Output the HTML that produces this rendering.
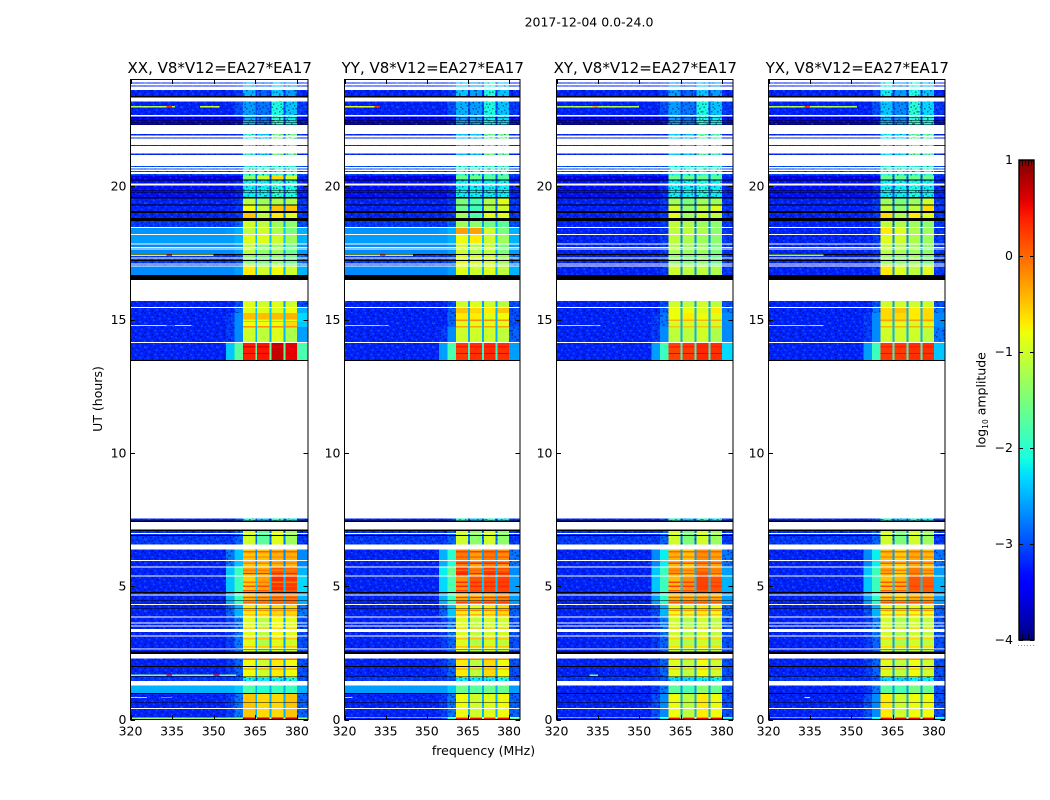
<!DOCTYPE html>
<html>
<head>
<meta charset="utf-8">
<title>2017-12-04 0.0-24.0</title>
<style>
html,body{margin:0;padding:0;background:#fff;width:1050px;height:800px;overflow:hidden}
svg{display:block}
text{font-family:"DejaVu Sans","Liberation Sans",sans-serif;fill:#000}
.tick{font-size:12.5px}
.title{font-size:15px}
</style>
</head>
<body>
<svg id="fig" xmlns="http://www.w3.org/2000/svg" width="1050" height="800" viewBox="0 0 1050 800">
  <defs>
    <pattern id="speckle" width="36" height="24" patternUnits="userSpaceOnUse"></pattern>
    <linearGradient id="jetGradient" x1="0" y1="1" x2="0" y2="0"></linearGradient>
  </defs>
  <text x="589" y="26.5" text-anchor="middle" style="font-size:12.5px">2017-12-04 0.0-24.0</text>
  <text transform="translate(102,399) rotate(-90)" text-anchor="middle" style="font-size:12.5px">UT (hours)</text>
  <text x="483.5" y="755" text-anchor="middle" style="font-size:12.5px">frequency (MHz)</text>
  <g id="panels"></g>
  <g id="cbar"></g>
  <text transform="translate(985.5,400) rotate(-90)" text-anchor="middle" style="font-size:12.5px">log<tspan dy="2.5" style="font-size:7.5px">10</tspan><tspan dy="-2.5"> amplitude</tspan></text>
</svg>
<script>
// ---- categories and ticks ----
const polarizations = ["XX", "YY", "XY", "YX"];
const baselineLabel = ", V8*V12=EA27*EA17";
const freqTicks = [320, 335, 350, 365, 380];
const hourTicks = [0, 5, 10, 15, 20];
const cbarTicks = [1, 0, -1, -2, -3, -4];
const freqRange = [320, 384];
const hourRange = [0, 24];
const ampRange = [-4, 1];

// frequency channel groups (MHz): background, two shoulder groups, band 1, notch, band 2, notch, band 3, notch, band 4, outer
const freqEdges = [320, 354.5, 357.5, 360.6, 365, 365.7, 370.1, 370.8, 375.1, 375.8, 380, 384];

// time blocks (top hour, bottom hour)
const timeBlocks = [
 [24,23.17],[23.17,22.66],[22.66,22.29],[22.29,21.0],[21.0,20.40],[20.40,20.25],
 [20.25,19.6],[19.6,19.27],[19.27,19.0],[19.0,18.69],[18.69,18.47],[18.47,18.17],
 [18.17,17.85],[17.85,17.45],[17.45,17.0],[17.0,16.48],
 [15.70,15.44],[15.44,15.25],[15.25,14.9],[14.9,14.72],[14.72,14.14],[14.14,13.45],
 [7.54,7.40],[7.07,6.56],[6.38,5.72],[5.72,5.38],[5.38,4.76],[4.76,4.32],
 [4.32,3.85],[3.85,3.13],[3.13,2.46],[2.29,1.6],[1.6,1.27],[1.27,0.97],[0.97,0.07],[0.07,0]
];
// indices of time blocks whose bands are faint and noisy
const noisyBlocks = [0, 1, 2, 3, 4, 6, 22, 32];

// log10 amplitude per block: [bg, shoulder1, shoulder2, band1, band2, band3, band4, outer, notch]
const ampXX = [
 [-3.2,-3.2,-3.1,-2.5,-2.9,-2.4,-2.6,-3.2,-3.2],
 [-3.2,-3.2,-3.0,-2.6,-2.8,-2.1,-2.4,-3.1,-3.0],
 [-3.4,-3.4,-3.3,-2.5,-2.8,-2.0,-2.2,-3.3,-3.2],
 [-3.2,-3.2,-3.2,-2.0,-2.4,-1.5,-1.6,-3.2,-3.2],
 [-3.0,-3.0,-3.0,-2.0,-2.0,-2.0,-2.0,-3.0,-2.8],
 [-3.5,-3.5,-3.4,-1.4,-1.0,-0.6,-1.0,-3.2,-2.9],
 [-3.3,-3.3,-3.2,-2.2,-2.2,-2.0,-2.1,-3.2,-3.0],
 [-3.2,-3.2,-3.1,-1.1,-1.3,-1.2,-1.2,-3.1,-2.8],
 [-3.2,-3.2,-3.1,-0.8,-1.1,-0.5,-0.5,-3.1,-2.8],
 [-3.2,-3.2,-3.1,-0.5,-1.1,-0.7,-0.9,-3.1,-2.8],
 [-3.1,-3.1,-2.9,-1.0,-1.1,-1.3,-1.4,-3.0,-2.6],
 [-2.65,-2.6,-2.5,-1.1,-1.0,-1.2,-1.5,-2.5,-2.4],
 [-2.6,-2.6,-2.5,-0.9,-0.9,-1.0,-1.3,-2.5,-2.4],
 [-2.7,-2.7,-2.6,-1.1,-1.4,-1.3,-1.6,-2.6,-2.5],
 [-3.1,-3.1,-3.0,-1.4,-1.5,-1.4,-1.6,-2.8,-2.7],
 [-2.7,-2.7,-2.6,-0.7,-1.0,-0.8,-1.0,-2.5,-2.5],
 [-3.2,-3.2,-3.0,-0.9,-1.0,-0.9,-1.0,-3.0,-2.6],
 [-3.2,-3.2,-2.8,-0.9,-0.9,-0.9,-0.8,-2.5,-2.4],
 [-3.2,-3.1,-2.7,-0.45,-0.45,-0.45,-0.4,-2.3,-2.4],
 [-3.2,-3.1,-2.7,-0.8,-0.8,-0.8,-0.6,-2.4,-2.4],
 [-3.2,-3.1,-2.7,-1.0,-1.1,-0.9,-1.2,-2.6,-2.5],
 [-3.2,-2.4,-1.7,0.4,0.45,0.7,0.55,-1.8,-1.7],
 [-3.2,-3.2,-3.0,-2.0,-2.4,-2.0,-2.2,-3.1,-3.0],
 [-3.1,-3.1,-2.9,-1.0,-1.7,-0.9,-1.3,-3.1,-2.8],
 [-3.2,-2.8,-2.4,-0.5,-0.5,-0.4,-0.4,-2.7,-2.7],
 [-3.2,-2.4,-1.9,-0.3,-0.3,0.1,0.0,-2.5,-2.5],
 [-3.2,-2.4,-1.9,-0.55,-0.3,0.3,0.25,-2.3,-2.4],
 [-3.2,-2.5,-1.9,-0.35,-0.2,-0.05,-0.05,-2.5,-2.5],
 [-3.2,-2.9,-2.5,-0.7,-0.7,-0.6,-0.6,-2.8,-2.6],
 [-3.2,-3.1,-2.8,-0.9,-1.1,-0.8,-0.9,-3.0,-2.6],
 [-3.2,-3.1,-2.8,-0.9,-1.2,-0.9,-1.0,-3.0,-2.6],
 [-3.2,-3.1,-2.9,-0.8,-1.0,-0.7,-0.8,-3.0,-2.6],
 [-3.1,-3.1,-3.0,-2.2,-2.2,-2.2,-2.1,-3.0,-2.9],
 [-2.5,-2.5,-2.4,-1.8,-2.0,-1.9,-1.9,-2.5,-2.5],
 [-3.2,-3.1,-2.8,-0.5,-0.6,-0.6,-0.5,-2.9,-2.5],
 [-1.3,-1.3,-1.3,0.7,0.7,0.7,0.7,-1.3,-1.0]
];
const ampYY = [
 [-3.2,-3.2,-3.1,-2.4,-2.6,-2.1,-2.4,-3.2,-3.2],
 [-3.2,-3.2,-3.0,-2.5,-2.6,-2.1,-2.4,-3.1,-3.0],
 [-3.4,-3.4,-3.3,-2.6,-2.6,-2.2,-2.3,-3.3,-3.2],
 [-3.2,-3.2,-3.2,-2.4,-2.4,-1.6,-1.6,-3.2,-3.2],
 [-3.0,-3.0,-3.0,-2.0,-2.0,-1.9,-1.9,-3.0,-2.8],
 [-3.5,-3.5,-3.4,-1.6,-1.6,-1.7,-1.7,-3.2,-2.9],
 [-3.3,-3.3,-3.2,-2.2,-2.2,-2.2,-2.2,-3.2,-3.0],
 [-3.2,-3.2,-3.1,-1.5,-1.8,-1.2,-0.9,-3.1,-2.8],
 [-3.2,-3.2,-3.1,-1.6,-1.9,-1.2,-1.0,-3.1,-2.8],
 [-3.2,-3.2,-3.1,-1.3,-1.8,-0.9,-0.9,-3.1,-2.8],
 [-3.1,-3.1,-2.9,-1.3,-1.4,-1.6,-1.7,-3.0,-2.6],
 [-2.65,-2.6,-2.5,-0.3,-0.3,-1.0,-1.5,-2.5,-2.4],
 [-2.6,-2.6,-2.5,-0.8,-0.7,-1.0,-1.3,-2.5,-2.4],
 [-2.7,-2.7,-2.6,-1.0,-1.2,-1.1,-1.5,-2.6,-2.5],
 [-3.1,-3.1,-3.0,-0.9,-1.0,-1.0,-1.3,-2.8,-2.7],
 [-2.7,-2.7,-2.6,-0.9,-1.0,-0.9,-1.1,-2.5,-2.5],
 [-3.2,-3.2,-3.0,-1.0,-0.9,-1.0,-1.1,-3.0,-2.6],
 [-3.2,-3.2,-2.9,-0.5,-0.6,-0.7,-0.5,-3.0,-2.5],
 [-3.2,-3.2,-2.9,-0.7,-0.7,-0.9,-0.8,-3.0,-2.5],
 [-3.2,-3.2,-2.9,-0.9,-0.9,-0.9,-0.9,-3.0,-2.5],
 [-3.2,-3.1,-2.7,-1.0,-1.0,-1.0,-1.1,-2.9,-2.5],
 [-3.2,-2.6,-1.8,0.25,0.3,0.35,0.3,-2.6,-2.0],
 [-3.2,-3.2,-3.0,-2.0,-2.4,-2.0,-2.2,-3.1,-3.0],
 [-3.1,-3.1,-2.9,-1.0,-1.4,-1.0,-1.4,-3.1,-2.8],
 [-3.2,-2.5,-2.0,-0.1,-0.3,-0.1,-0.2,-2.8,-2.6],
 [-3.2,-2.2,-1.6,0.3,-0.1,0.25,0.15,-2.7,-2.5],
 [-3.2,-2.3,-1.8,-0.2,0.1,0.15,0.2,-2.6,-2.4],
 [-3.2,-2.5,-1.9,-0.3,-0.3,-0.2,-0.1,-2.6,-2.5],
 [-3.2,-2.9,-2.4,-0.7,-0.9,-0.7,-0.6,-2.9,-2.6],
 [-3.2,-3.1,-2.8,-0.9,-1.1,-1.0,-1.0,-3.0,-2.6],
 [-3.2,-3.1,-2.9,-0.9,-1.2,-1.0,-1.1,-3.0,-2.6],
 [-3.2,-3.1,-2.9,-0.7,-1.1,-0.6,-0.8,-3.0,-2.6],
 [-3.1,-3.1,-3.0,-2.2,-2.2,-2.2,-2.1,-3.0,-2.9],
 [-2.6,-2.6,-2.4,-1.6,-1.7,-1.6,-1.6,-2.6,-2.5],
 [-3.2,-3.1,-2.8,-0.8,-1.0,-0.9,-0.8,-2.9,-2.5],
 [-3.2,-3.0,-2.0,0.4,0.5,0.4,0.5,-1.6,-1.2]
];
const ampXY = [
 [-3.2,-3.2,-3.1,-2.6,-2.9,-2.4,-2.6,-3.2,-3.2],
 [-3.2,-3.2,-3.0,-2.6,-2.8,-2.1,-2.4,-3.1,-3.0],
 [-3.4,-3.4,-3.3,-2.6,-2.8,-2.1,-2.2,-3.3,-3.2],
 [-3.2,-3.2,-3.2,-2.3,-2.4,-1.7,-1.8,-3.2,-3.2],
 [-3.0,-3.0,-3.0,-2.1,-2.1,-2.0,-2.0,-3.0,-2.8],
 [-3.5,-3.5,-3.4,-1.6,-1.6,-1.6,-1.7,-3.2,-2.9],
 [-3.3,-3.3,-3.2,-2.2,-2.2,-2.1,-2.2,-3.2,-3.0],
 [-3.2,-3.2,-3.1,-1.3,-1.5,-1.3,-1.3,-3.1,-2.8],
 [-3.2,-3.2,-3.1,-1.0,-1.4,-1.1,-0.9,-3.1,-2.8],
 [-3.2,-3.2,-3.1,-0.9,-1.3,-1.0,-1.1,-3.1,-2.8],
 [-3.2,-3.2,-3.1,-1.1,-1.2,-1.3,-1.4,-3.1,-2.8],
 [-3.2,-3.2,-3.1,-1.1,-1.1,-1.2,-1.4,-3.1,-2.7],
 [-3.2,-3.2,-3.1,-1.1,-1.2,-1.3,-1.4,-3.1,-2.7],
 [-3.2,-3.2,-3.1,-1.2,-1.3,-1.3,-1.5,-3.1,-2.7],
 [-3.2,-3.2,-3.1,-1.4,-1.5,-1.4,-1.6,-3.1,-2.7],
 [-3.2,-3.2,-3.1,-1.0,-1.1,-1.1,-1.2,-3.1,-2.7],
 [-3.2,-3.2,-3.0,-1.0,-1.1,-1.0,-1.1,-3.0,-2.6],
 [-3.2,-3.2,-2.9,-0.8,-0.8,-0.9,-0.7,-2.8,-2.5],
 [-3.2,-3.1,-2.8,-0.8,-0.7,-0.8,-0.9,-2.7,-2.5],
 [-3.2,-3.1,-2.8,-1.0,-1.0,-1.0,-1.0,-2.7,-2.5],
 [-3.2,-3.1,-2.7,-1.1,-1.1,-1.0,-1.2,-2.7,-2.5],
 [-3.2,-2.6,-1.9,0.2,0.25,0.35,0.3,-2.3,-2.0],
 [-3.2,-3.2,-3.0,-2.0,-2.4,-2.0,-2.2,-3.1,-3.0],
 [-3.1,-3.1,-2.9,-1.0,-1.5,-1.0,-1.3,-3.1,-2.8],
 [-3.2,-2.7,-2.2,-0.4,-0.5,-0.2,-0.3,-2.8,-2.6],
 [-3.2,-2.4,-1.9,-0.2,-0.3,0.05,-0.15,-2.6,-2.5],
 [-3.2,-2.4,-1.9,-0.45,-0.2,0.2,0.1,-2.5,-2.4],
 [-3.2,-2.6,-2.0,-0.35,-0.3,-0.25,-0.3,-2.6,-2.5],
 [-3.2,-3.0,-2.5,-0.8,-0.9,-0.7,-0.8,-2.9,-2.6],
 [-3.2,-3.1,-2.8,-1.0,-1.2,-1.0,-1.1,-3.0,-2.6],
 [-3.2,-3.1,-2.9,-1.0,-1.2,-1.0,-1.1,-3.0,-2.6],
 [-3.2,-3.1,-2.9,-0.9,-1.1,-0.8,-1.0,-3.0,-2.6],
 [-3.1,-3.1,-3.0,-2.3,-2.3,-2.2,-2.2,-3.0,-2.9],
 [-3.2,-3.1,-2.8,-1.7,-1.8,-1.4,-1.6,-3.0,-2.6],
 [-3.2,-3.0,-2.7,-0.8,-1.1,-0.7,-0.8,-3.0,-2.5],
 [-3.2,-3.0,-2.2,0.5,0.55,0.5,0.55,-2.2,-1.6]
];
const ampYX = [
 [-3.2,-3.2,-3.1,-2.2,-2.6,-2.1,-2.4,-3.2,-3.2],
 [-3.2,-3.2,-3.0,-2.4,-2.7,-2.0,-2.3,-3.1,-3.0],
 [-3.4,-3.4,-3.3,-2.5,-2.7,-2.0,-2.1,-3.3,-3.2],
 [-3.2,-3.2,-3.2,-2.2,-2.3,-1.6,-1.7,-3.2,-3.2],
 [-3.0,-3.0,-3.0,-2.0,-2.0,-2.0,-2.0,-3.0,-2.8],
 [-3.5,-3.5,-3.4,-1.6,-1.6,-1.6,-1.6,-3.2,-2.9],
 [-3.3,-3.3,-3.2,-2.2,-2.2,-2.1,-2.2,-3.2,-3.0],
 [-3.2,-3.2,-3.1,-1.3,-1.5,-1.3,-1.0,-3.1,-2.8],
 [-3.2,-3.2,-3.1,-1.1,-1.4,-1.1,-0.6,-3.1,-2.8],
 [-3.2,-3.2,-3.1,-0.6,-1.2,-0.7,-0.9,-3.1,-2.8],
 [-3.2,-3.2,-3.1,-1.1,-1.2,-1.3,-1.4,-3.1,-2.8],
 [-3.2,-3.2,-3.1,-0.7,-0.9,-1.2,-1.3,-3.1,-2.7],
 [-3.2,-3.2,-3.1,-0.9,-1.0,-1.2,-1.3,-3.1,-2.7],
 [-3.2,-3.2,-3.1,-1.1,-1.2,-1.3,-1.4,-3.1,-2.7],
 [-3.2,-3.2,-3.1,-1.3,-1.4,-1.3,-1.5,-3.1,-2.7],
 [-3.2,-3.2,-3.1,-0.7,-0.9,-1.1,-0.9,-3.1,-2.7],
 [-3.2,-3.2,-3.0,-1.0,-1.0,-1.0,-1.0,-3.0,-2.6],
 [-3.2,-3.2,-2.8,-0.6,-0.5,-0.7,-0.6,-2.8,-2.5],
 [-3.2,-3.1,-2.7,-0.6,-0.6,-0.7,-0.6,-2.7,-2.5],
 [-3.2,-3.1,-2.7,-0.9,-0.9,-1.0,-0.9,-2.7,-2.5],
 [-3.2,-3.1,-2.7,-1.0,-1.0,-1.0,-1.1,-2.8,-2.5],
 [-3.2,-2.6,-1.9,0.25,0.25,0.3,0.3,-2.4,-2.0],
 [-3.2,-3.2,-3.0,-2.0,-2.4,-2.0,-2.2,-3.1,-3.0],
 [-3.1,-3.1,-2.9,-1.0,-1.5,-1.0,-1.3,-3.1,-2.8],
 [-3.2,-2.7,-2.2,-0.45,-0.55,-0.35,-0.45,-2.8,-2.6],
 [-3.2,-2.4,-1.9,-0.3,-0.5,-0.1,-0.3,-2.6,-2.5],
 [-3.2,-2.4,-1.9,-0.5,-0.4,0.1,0.05,-2.5,-2.4],
 [-3.2,-2.6,-2.0,-0.4,-0.5,-0.35,-0.35,-2.6,-2.5],
 [-3.2,-3.0,-2.5,-0.8,-0.9,-0.8,-0.8,-2.9,-2.6],
 [-3.2,-3.1,-2.8,-1.0,-1.2,-1.0,-1.1,-3.0,-2.6],
 [-3.2,-3.1,-2.9,-1.0,-1.2,-1.0,-1.1,-3.0,-2.6],
 [-3.2,-3.1,-2.9,-0.9,-1.1,-0.8,-1.0,-3.0,-2.6],
 [-3.1,-3.1,-3.0,-2.3,-2.3,-2.2,-2.2,-3.0,-2.9],
 [-3.2,-3.1,-2.8,-1.7,-1.8,-1.5,-1.6,-3.0,-2.6],
 [-3.2,-3.0,-2.7,-0.7,-1.0,-0.8,-0.8,-3.0,-2.5],
 [-3.2,-3.0,-2.2,0.5,0.55,0.5,0.55,-2.2,-1.6]
];
const panelAmps = [ampXX, ampYY, ampXY, ampYX];

// thin time rows inside the bright bands
const stripeHours = [6.32,6.12,5.88,5.62,5.5,5.18,5.02,4.85,4.6,4.42,4.12,3.95,3.42,3.05,2.75,2.28,1.92,14.0,13.75,15.0,14.75];
const stripeXX = [0.05,-0.1,-0.1,-0.1,0.35,-0.1,0.15,0.1,0.2,0.0,-0.2,-0.5,-0.4,-0.5,-0.5,0.0,-0.2,0.6,0.7,-0.9,-0.2];
const stripeYY = [0.25,0.2,0.4,0.0,0.4,0.3,0.35,0.2,0.3,0.2,-0.1,-0.4,-0.4,-0.5,-0.5,-0.1,-0.3,0.45,0.55,-0.2,-0.3];
const stripeXY = [0.05,0.05,0.2,-0.1,0.15,0.2,0.25,0.1,0.15,0.1,-0.2,-0.5,-0.5,-0.6,-0.6,-0.2,-0.4,0.4,0.55,-0.4,-0.5];
const stripeYX = [0.0,0.0,0.1,-0.1,0.1,0.1,0.2,0.05,0.1,0.1,-0.2,-0.5,-0.5,-0.6,-0.6,-0.2,-0.4,0.4,0.5,-0.3,-0.4];
const panelStripes = [stripeXX, stripeYY, stripeXY, stripeYX];

// flagged time ranges (hour top, hour bottom)
const whiteBands = [
 [24,23.88],[23.85,23.78],[23.74,23.61],[23.32,23.17],[22.66,22.62],[22.29,21.95],[21.90,21.83],
 [21.79,21.54],[21.50,21.23],[21.17,20.75],[20.72,20.67],[20.63,20.57],[20.53,20.45],[20.10,20.03],
 [18.47,18.43],[18.20,18.17],[17.85,17.81],[17.72,17.69],[17.66,17.63],[17.33,17.29],[17.10,17.07],[17.02,16.98],
 [15.47,15.44],[14.16,14.12],
 [7.40,7.13],[6.99,6.95],[6.56,6.38],[5.99,5.95],[5.74,5.70],[5.40,5.37],[4.69,4.65],[4.34,4.30],
 [3.87,3.83],[3.64,3.60],[3.53,3.48],[3.39,3.28],[3.15,3.12],[2.66,2.63],[2.46,2.29],
 [1.44,1.27],[0.44,0.40]
];
const blackBands = [
 [23.38,23.32],[22.59,22.57],[22.49,22.47],[22.41,22.39],[22.31,22.29],[20.25,20.22],[19.85,19.83],[19.78,19.76],
 [19.6,19.53],[19.32,19.27],[19.07,19.0],[18.8,18.69],[17.45,17.41],[17.23,17.2],[16.67,16.48],[13.48,13.45],
 [7.48,7.46],[7.44,7.40],[7.13,7.07],[6.91,6.89],[4.78,4.75],[4.49,4.47],[4.19,4.17],[2.63,2.60],[2.55,2.46],
 [2.0,1.97],[1.62,1.59],[0.99,0.95],[0.66,0.64]
];
const extraWhite = [[], [[0.10,0.07]], [[0.10,0.07]], [[0.10,0.07]]];

// narrow-band interference: [panel, hour, f0, f1, level]
const rfiLines = [
 [0,23.0,320,336,-1.2],[0,23.0,333,335,0.3],[0,23.0,345,352,-1.0],[0,14.8,320,342,-0.9],[0,14.8,333,336,0.3],
 [0,17.43,320,350,-1.0],[0,17.43,333,335,0.4],[0,0.85,320,326,-1.5],[0,0.85,331,335,0.0],[0,1.68,320,358,-1.4],
 [0,1.68,333,335,0.4],[0,1.68,350,352,0.4],
 [1,23.0,320,332,-0.9],[1,23.0,331,333,0.3],[1,14.8,320,336,-1.4],[1,14.8,333,335,-0.2],[1,0.85,320,323,-1.5],[1,17.43,320,345,-1.2],[1,17.43,333,335,0.2],
 [2,23.0,320,350,-1.2],[2,23.0,333,335,-0.3],[2,14.8,320,336,-1.2],[2,14.8,333,335,-0.3],[2,1.68,332,335,-1.7],
 [3,23.0,320,352,-1.2],[3,23.0,333,335,0.3],[3,14.8,320,340,-1.2],[3,14.8,333,335,-0.3],[3,0.85,333,335,-0.8],[3,17.43,320,340,-1.4]
];

// ---- layout ----
const panelLeft = [130.5, 344.5, 556.5, 768.5];
const panelRight = [308, 520, 733, 945];
const plotTop = 79.5;
const plotBottom = 719.5;
const cbarBox = {x:1019, y:160, w:15, h:480};

// noise texture tile (d = darker pixel, l = lighter pixel), one character per 1.5 px
const noiseTile = [
 "d..l...d.....dd...l...d.",
 ".....d....l......d...l..",
 "..d.....dd...l.d.....d..",
 "l....l......d.....dd....",
 "...d...d..l.....l.....d.",
 ".d....l.....d.d....d....",
 "....d....d.......l...l.d",
 "ll.....d...l.d.....d....",
 "...d.d....d.....d...d...",
 "d.......l.....l....l....",
 "...l..d....dd.....d...d.",
 ".d.......d.....d......l.",
 "....dd.l....l.....l.d...",
 "d.........d...d.d.......",
 "..l..d..l.....l...d..l..",
 ".....d....d.d.....d....d"
];

const NS = "http://www.w3.org/2000/svg";
function mk(tag, attrs, parent){
  const el = document.createElementNS(NS, tag);
  for (const k in attrs) el.setAttribute(k, attrs[k]);
  parent.appendChild(el);
  return el;
}
function scaleX(i, f){
  return panelLeft[i] + (f - freqRange[0]) / (freqRange[1] - freqRange[0]) * (panelRight[i] - panelLeft[i]);
}
function scaleY(h){
  return plotBottom - (h - hourRange[0]) / (hourRange[1] - hourRange[0]) * (plotBottom - plotTop);
}
function ramp(t, pts){
  for (let i = 1; i < pts.length; i++){
    if (t <= pts[i][0]){
      const a = pts[i-1], b = pts[i];
      return a[1] + (b[1]-a[1]) * (t-a[0]) / (b[0]-a[0]);
    }
  }
  return pts[pts.length-1][1];
}
function jet(v){
  const t = Math.max(0, Math.min(1, (v - ampRange[0]) / (ampRange[1] - ampRange[0])));
  const r = ramp(t, [[0,0],[0.35,0],[0.66,1],[0.89,1],[1,0.5]]);
  const g = ramp(t, [[0,0],[0.125,0],[0.375,1],[0.64,1],[0.91,0],[1,0]]);
  const b = ramp(t, [[0,0.5],[0.11,1],[0.34,1],[0.65,0],[1,0]]);
  return "rgb(" + Math.round(r*255) + "," + Math.round(g*255) + "," + Math.round(b*255) + ")";
}
// build the noise tile
const tilePattern = document.getElementById("speckle");
noiseTile.forEach(function(row, r){
  row.split("").forEach(function(ch, c){
    if (ch === ".") return;
    mk("rect", {x:c*1.5, y:r*1.5, width:1.5, height:1.5,
      fill: ch === "d" ? "#000060" : "#2a80ff",
      opacity: ch === "d" ? 0.5 : 0.45}, tilePattern);
  });
});

// map a channel group to its column in the amplitude row
const groupToColumn = [0, 1, 2, 3, 8, 4, 8, 5, 8, 6, 7];

const panelsRoot = document.getElementById("panels");
polarizations.forEach(function(pol, p){
  const g = mk("g", {}, panelsRoot);
  
  
  const L = panelLeft[p], R = panelRight[p];

  // heatmap cells
  const heat = mk("g", {"shape-rendering":"crispEdges"}, g);
  
  
  timeBlocks.forEach(function(tb, b){
    const y0 = scaleY(tb[0]), y1 = scaleY(tb[1]);
    for (let s = 0; s < freqEdges.length - 1; s++){
      const x0 = scaleX(p, freqEdges[s]), x1 = scaleX(p, freqEdges[s+1]);
      const level = panelAmps[p][b][groupToColumn[s]];
      const cell = mk("rect", {x:x0, y:y0, width:x1-x0, height:y1-y0, fill:jet(level)}, heat);
      
      
      if (level < -2.75 || noisyBlocks.indexOf(b) >= 0){
        const tex = mk("rect", {x:x0, y:y0, width:x1-x0, height:y1-y0, fill:"url(#speckle)"}, heat);
        
        
      }
    }
  });

  // bright time rows in the four bands
  stripeHours.forEach(function(h, k){
    [[360.6,365],[365.7,370.1],[370.8,375.1],[375.8,380]].forEach(function(band){
      const x0 = scaleX(p, band[0]), x1 = scaleX(p, band[1]);
      const st = mk("rect", {x:x0, y:scaleY(h), width:x1-x0, height:1.4, fill:jet(panelStripes[p][k])}, heat);
      
      
    });
  });

  // flagged time ranges
  const addFlag = function(band, color){
    const fl = mk("rect", {x:L, y:scaleY(band[0]), width:R-L, height:scaleY(band[1])-scaleY(band[0]), fill:color}, heat);
    
    
  };
  whiteBands.forEach(function(b){ addFlag(b, "#fff"); });
  extraWhite[p].forEach(function(b){ addFlag(b, "#fff"); });
  blackBands.forEach(function(b){ addFlag(b, "#000"); });

  // interference lines
  rfiLines.filter(function(r){ return r[0] === p; }).forEach(function(r){
    const x0 = scaleX(p, r[2]), x1 = scaleX(p, r[3]);
    const ln = mk("rect", {x:x0, y:scaleY(r[1]), width:x1-x0, height:1.2, fill:jet(r[4])}, heat);
    
    
  });

  // frame
  const fr = mk("rect", {x:L, y:plotTop, width:R-L, height:plotBottom-plotTop, fill:"none", stroke:"#000", "stroke-width":1}, g);
  
  

  // ticks
  freqTicks.forEach(function(f){
    const x = Math.round(scaleX(p, f)) + 0.5;
    const t1 = mk("line", {x1:x, x2:x, y1:plotBottom, y2:plotBottom-4.5, stroke:"#000"}, g);
    
    
    const t2 = mk("line", {x1:x, x2:x, y1:plotTop, y2:plotTop+4.5, stroke:"#000"}, g);
    
    
    const lb = mk("text", {x:scaleX(p, f), y:735.5, "text-anchor":"middle", "class":"tick"}, g);
    lb.textContent = String(f);
    
    
  });
  hourTicks.forEach(function(h){
    const y = Math.round(scaleY(h)) + 0.5;
    const t1 = mk("line", {x1:L, x2:L+4.5, y1:y, y2:y, stroke:"#000"}, g);
    
    
    const t2 = mk("line", {x1:R, x2:R-4.5, y1:y, y2:y, stroke:"#000"}, g);
    
    
    const lb = mk("text", {x:L-4, y:scaleY(h)+4.5, "text-anchor":"end", "class":"tick"}, g);
    lb.textContent = String(h);
    
    
  });

  const title = mk("text", {x:(L+R)/2+0.5, y:73, "text-anchor":"middle", "class":"title"}, g);
  title.textContent = pol + baselineLabel;
  
  
});

// ---- colorbar ----
const grad = document.getElementById("jetGradient");
for (let i = 0; i <= 50; i++){
  mk("stop", {offset:(i/50), "stop-color":jet(ampRange[0] + (ampRange[1]-ampRange[0])*i/50)}, grad);
}
const cbarRoot = document.getElementById("cbar");
const cb = cbarBox;
function scaleAmp(v){
  return cb.y + cb.h - (v - ampRange[0]) / (ampRange[1] - ampRange[0]) * cb.h;
}
const cbRect = mk("rect", {x:cb.x, y:cb.y, width:cb.w, height:cb.h, fill:"url(#jetGradient)", stroke:"#000", "stroke-width":1.4}, cbarRoot);


cbarTicks.forEach(function(v){
  const y = Math.round(scaleAmp(v)) + 0.5;
  const a = mk("line", {x1:cb.x, x2:cb.x+4, y1:y, y2:y, stroke:"#000"}, cbarRoot);
  
  
  const c = mk("line", {x1:cb.x+cb.w-4, x2:cb.x+cb.w, y1:y, y2:y, stroke:"#000"}, cbarRoot);
  
  
  const lb = mk("text", {x:1013, y:y+3.5, "text-anchor":"end", "class":"tick"}, cbarRoot);
  lb.textContent = v < 0 ? "\u2212" + Math.abs(v) : String(v);
  
  
});
// short inner ticks along the top and bottom edges, and the faint dots below
[3, 6, 9, 12].forEach(function(dx){
  const top = mk("line", {x1:cb.x+dx+0.5, x2:cb.x+dx+0.5, y1:cb.y, y2:cb.y+6, stroke:"#000", "stroke-width":0.8}, cbarRoot);
  
  
  const bot = mk("line", {x1:cb.x+dx+0.5, x2:cb.x+dx+0.5, y1:cb.y+cb.h-6, y2:cb.y+cb.h, stroke:"#000", "stroke-width":0.8}, cbarRoot);
  
  
});
[0, 3, 6, 9, 12, 15].forEach(function(dx){
  const dot = mk("rect", {x:cb.x-1+dx, y:645, width:1, height:1, fill:"#999"}, cbarRoot);
  
  
});
</script>
</body>
</html>
